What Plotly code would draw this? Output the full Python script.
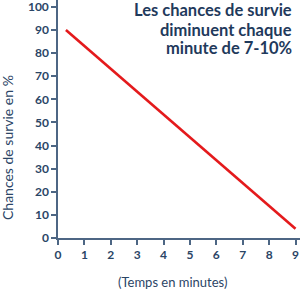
import plotly.graph_objects as go

minutes = [0.3, 9.0]
survie = [90, 4]
x_ticks = [0, 1, 2, 3, 4, 5, 6, 7, 8, 9]
y_ticks = [0, 10, 20, 30, 40, 50, 60, 70, 80, 90, 100]
title_lines = ["Les chances de survie", "diminuent chaque", "minute de 7-10%"]

navy = "#2b4566"
axis_col = "#4d6684"

fig = go.Figure()
fig.add_trace(go.Scatter(x=minutes, y=survie, mode="lines",
                         line=dict(color="#e41a1c", width=2.6), hoverinfo="skip"))

title_ann = []
for i, line in enumerate(title_lines):
    title_ann.append(dict(text=line, xref="paper", yref="paper",
                          x=0.975, y=1 - (10.5 + 19 * i) / 238, xanchor="right", yanchor="middle",
                          showarrow=False,
                          font=dict(family="Lato", size=16.5, color="#1f3a5c", weight="bold")))

fig.update_layout(
    width=300, height=290,
    margin=dict(l=58, r=0, t=0, b=52),
    paper_bgcolor="white", plot_bgcolor="white",
    showlegend=False,
    font=dict(family="Lato", color=navy),
    xaxis=dict(range=[0, 9.17], tickvals=x_ticks, showgrid=False, zeroline=False,
               showline=True, linecolor=axis_col, linewidth=1.5,
               ticks="outside", ticklen=5, tickwidth=1.5, tickcolor=axis_col,
               ticklabeloverflow="allow",
               tickfont=dict(family="Lato", size=12, color=navy, weight="bold")),
    yaxis=dict(range=[0, 103], tickvals=y_ticks, showgrid=False, zeroline=False,
               showline=True, linecolor=axis_col, linewidth=1.5,
               ticks="outside", ticklen=5, tickwidth=1.5, tickcolor=axis_col,
               ticklabeloverflow="allow",
               tickfont=dict(family="Lato", size=12, color=navy, weight="bold")),
    annotations=title_ann + [
        dict(text="Chances de survie en %", xref="paper", yref="paper",
             x=-0.211, y=0.382, xanchor="center", yanchor="middle", textangle=-90,
             showarrow=False, font=dict(family="Lato", size=14, color=navy)),
        dict(text="(Temps en minutes)", xref="paper", yref="paper",
             x=0.473, y=-0.185, xanchor="center", yanchor="middle",
             showarrow=False, font=dict(family="Lato", size=13, color=navy)),
    ],
)

fig.write_html("out.html")
